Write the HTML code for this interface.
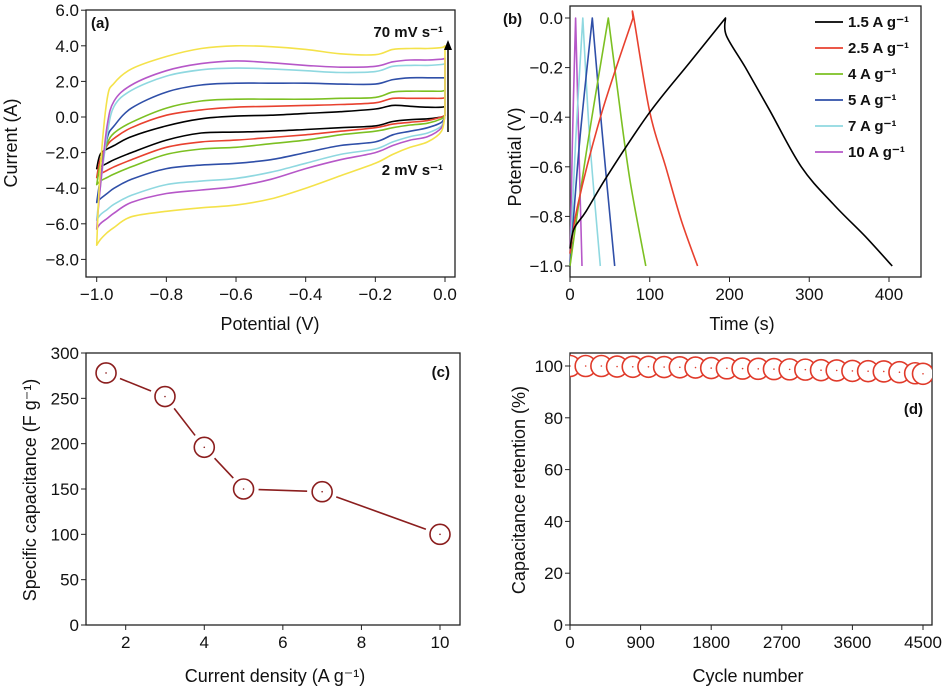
<!DOCTYPE html>
<html><head><meta charset="utf-8"><style>
body{margin:0;background:#fff;}
svg{display:block;font-family:"Liberation Sans",sans-serif;}
.tk{font-size:17px;fill:#111;}
.tt{font-size:18px;fill:#111;}
.b{font-weight:bold;font-size:15px;fill:#111;}
</style></head><body>
<svg id="s" width="947" height="688" viewBox="0 0 947 688"></svg>
<script>
// ---- Panel (a) CV data ----
const cvPotentials=[-1,-0.99,-0.97,-0.95,-0.9,-0.8,-0.7,-0.6,-0.5,-0.4,-0.3,-0.2,-0.15,-0.1,-0.05,-0.01,0];
const cvNames=['2','5','10','20','30','50','70'];
const cvColors=['#000000','#e8412f','#7cc022','#2f4fa8','#8fd8e0','#b657c8','#f4e24a'];
const cvUpper2=[-2.9,-2.1,-1.8,-1.6,-1.1,-0.5,-0.1,0.05,0.1,0.2,0.3,0.45,0.65,0.6,0.55,0.55,0.6];
const cvUpper5=[-3.4,-2.4,-1.6,-1.2,-0.6,0.1,0.4,0.55,0.6,0.65,0.7,0.8,1.05,1.05,1.05,1.05,1.1];
const cvUpper10=[-3.8,-2.7,-1.5,-0.9,-0.3,0.5,0.9,1.0,1.0,1.0,1.05,1.1,1.4,1.45,1.45,1.45,1.5];
const cvUpper20=[-4.8,-3.5,-1.2,-0.5,0.5,1.4,1.8,1.9,1.9,1.9,1.85,1.85,2.1,2.2,2.2,2.2,2.2];
const cvUpper30=[-5.8,-4.0,-1.0,0.6,1.5,2.3,2.65,2.75,2.7,2.6,2.5,2.55,2.85,2.9,2.9,2.95,3.0];
const cvUpper50=[-6.3,-4.0,-0.5,0.9,1.8,2.6,3.0,3.15,3.05,2.9,2.8,2.85,3.1,3.2,3.2,3.25,3.3];
const cvUpper70=[-7.2,-3.0,1.0,1.9,2.7,3.4,3.85,4.0,3.95,3.8,3.55,3.5,3.8,3.85,3.85,3.9,4.0];
const cvLower2=[-2.9,-2.8,-2.6,-2.4,-2.0,-1.3,-0.9,-0.85,-0.8,-0.7,-0.6,-0.5,-0.25,-0.15,-0.1,0,0.1];
const cvLower5=[-3.4,-3.2,-3.0,-2.8,-2.4,-1.7,-1.4,-1.3,-1.15,-1.0,-0.8,-0.6,-0.4,-0.3,-0.2,0.0,0.1];
const cvLower10=[-3.8,-3.6,-3.4,-3.2,-2.8,-2.1,-1.8,-1.7,-1.5,-1.3,-1.0,-0.8,-0.6,-0.45,-0.35,-0.1,0.1];
const cvLower20=[-4.8,-4.6,-4.3,-4.0,-3.5,-2.9,-2.7,-2.6,-2.4,-2.0,-1.6,-1.4,-1.0,-0.8,-0.6,-0.3,0.1];
const cvLower30=[-5.8,-5.5,-5.2,-4.9,-4.4,-3.8,-3.6,-3.45,-3.1,-2.6,-2.1,-1.8,-1.4,-1.1,-0.9,-0.5,0.1];
const cvLower50=[-6.3,-6.0,-5.7,-5.4,-4.8,-4.3,-4.1,-3.9,-3.5,-2.9,-2.4,-2.0,-1.6,-1.3,-1.1,-0.6,0.1];
const cvLower70=[-7.2,-6.9,-6.5,-6.2,-5.6,-5.3,-5.1,-4.95,-4.6,-4.0,-3.3,-2.6,-2.1,-1.7,-1.4,-0.8,0.2];
const aXTicks=[-1.0,-0.8,-0.6,-0.4,-0.2,0.0];
const aYTicks=[6,4,2,0,-2,-4,-6,-8];
// ---- Panel (b) GCD data ----
const gcdLabels=['1.5 A g','2.5 A g','4 A g','5 A g','7 A g','10 A g'];
const gcdColors=['#000000','#e8412f','#7cc022','#2f4fa8','#8fd8e0','#b657c8'];
const gcdTime15=[0,5,20,50,100,150,195,196,220,250,290,330,370,404];
const gcdV15=[-0.93,-0.85,-0.78,-0.62,-0.38,-0.18,0,-0.07,-0.2,-0.37,-0.6,-0.75,-0.88,-1];
const gcdTime25=[0,10,40,79,80,100,120,140,160];
const gcdV25=[-0.95,-0.75,-0.38,0,0,-0.38,-0.6,-0.82,-1];
const gcdTime4=[0,20,48,60,75,95];
const gcdV4=[-1,-0.55,0,-0.3,-0.65,-1];
const gcdTime5=[0,12,28,40,56];
const gcdV5=[-1,-0.5,0,-0.45,-1];
const gcdTime7=[0,7,16,25,38];
const gcdV7=[-1,-0.5,0,-0.5,-1];
const gcdTime10=[0,3,7,11,15];
const gcdV10=[-1,-0.5,0,-0.5,-1];
const bXTicks=[0,100,200,300,400];
const bYTicks=[0,-0.2,-0.4,-0.6,-0.8,-1.0];
// ---- Panel (c) ----
const cDensity=[1.5,3,4,5,7,10];
const cCapacitance=[278,252,196,150,147,100];
const cXTicks=[2,4,6,8,10];
const cYTicks=[0,50,100,150,200,250,300];
// ---- Panel (d) ----
const dCycles=[0,200,400,600,800,1000,1200,1400,1600,1800,2000,2200,2400,2600,2800,3000,3200,3400,3600,3800,4000,4200,4400,4500];
const dRetention=[100,100,100,99.8,99.7,99.7,99.6,99.5,99.4,99.2,99.1,99,98.9,98.8,98.7,98.6,98.4,98.3,98.1,98,97.9,97.6,97.2,97];
const dXTicks=[0,900,1800,2700,3600,4500];
const dYTicks=[0,20,40,60,80,100];

const S=document.getElementById('s');const NS='http://www.w3.org/2000/svg';
function mk(t,a,p){const e=document.createElementNS(NS,t);for(const k in a)e.setAttribute(k,a[k]);(p||S).appendChild(e);return e;}
function lin(d0,d1,r0,r1){return v=>r0+(v-d0)/(d1-d0)*(r1-r0);}
function txt(x,y,s,cls,anchor,name,rot){const e=mk('text',{x:x,y:y,class:cls,'text-anchor':anchor||'middle'});
 if(rot)e.setAttribute('transform','rotate(-90 '+x+' '+y+')');e.textContent=s;
 
 return e;}
function frame(L,T,R,B,name){const r=mk('rect',{x:L,y:T,width:R-L,height:B-T,fill:'none',stroke:'#222','stroke-width':1.3});
 
 }
function xticks(ticks,X,B,fmt,name){ticks.forEach(t=>{const x=X(t);mk('line',{x1:x,y1:B,x2:x,y2:B+5,stroke:'#222'});
 txt(x,B+23,fmt(t),'tk','middle',name);});}
function yticks(ticks,Y,L,fmt,name){ticks.forEach(t=>{const y=Y(t);mk('line',{x1:L-5,y1:y,x2:L,y2:y,stroke:'#222'});
 txt(L-7,y+6,fmt(t),'tk','end',name);});}
function f1(v){return (v<0?'\u2212':'')+Math.abs(v).toFixed(1);}
function smoothD(pts){let d='M'+pts[0][0].toFixed(1)+','+pts[0][1].toFixed(1);
 for(let i=0;i<pts.length-1;i++){const p0=pts[Math.max(0,i-1)],p1=pts[i],p2=pts[i+1],p3=pts[Math.min(pts.length-1,i+2)];
  const c1=[p1[0]+(p2[0]-p0[0])/6,p1[1]+(p2[1]-p0[1])/6],c2=[p2[0]-(p3[0]-p1[0])/6,p2[1]-(p3[1]-p1[1])/6];
  d+=' C'+c1.map(v=>v.toFixed(1)).join(',')+' '+c2.map(v=>v.toFixed(1)).join(',')+' '+p2[0].toFixed(1)+','+p2[1].toFixed(1);}
 return d;}
function path(d,col,name,w){const p=mk('path',{d:d,fill:'none',stroke:col,'stroke-width':w||1.6,'stroke-linejoin':'round'});
 
 return p;}

// Panel a
{const L=86,R=455,T=10,B=277;const X=lin(-1,0,96.7,445),Y=lin(0,1,117,99.2);
 frame(L,T,R,B,'panel-a-frame');
 xticks(aXTicks,X,B,f1,'panel-a-x-tick');yticks(aYTicks,Y,L,f1,'panel-a-y-tick');
 const ups=[cvUpper2,cvUpper5,cvUpper10,cvUpper20,cvUpper30,cvUpper50,cvUpper70];
 const los=[cvLower2,cvLower5,cvLower10,cvLower20,cvLower30,cvLower50,cvLower70];
 for(let i=0;i<7;i++){const up=cvPotentials.map((p,j)=>[X(p),Y(ups[i][j])]);
  const lo=cvPotentials.map((p,j)=>[X(p),Y(los[i][j])]).reverse();
  path(smoothD(up)+' L'+lo[0][0].toFixed(1)+','+lo[0][1].toFixed(1)+' '+smoothD(lo).replace('M','L')+' Z',cvColors[i],'cv-curve-'+cvNames[i]+'-mv');}
 mk('line',{x1:448,y1:132,x2:448,y2:48,stroke:'#000','stroke-width':1.5});
 const ar=mk('polygon',{points:'448,40 444,50 452,50',fill:'#000'});
 
 
 txt(443,37,'70 mV s\u207B\u00B9','b','end','label-70-mv');
 txt(443,175,'2 mV s\u207B\u00B9','b','end','label-2-mv');
 txt(91,28,'(a)','b','start','panel-a-label');
 txt(270,330,'Potential (V)','tt','middle','panel-a-x-title');
 txt(17,143,'Current (A)','tt','middle','panel-a-y-title',true);}
// Panel b
{const L=570,R=921,T=6,B=277;const X=lin(0,400,570,889),Y=lin(0,-1,18,266);
 frame(L,T,R,B,'panel-b-frame');
 xticks(bXTicks,X,B,v=>String(v),'panel-b-x-tick');yticks(bYTicks,Y,L,f1,'panel-b-y-tick');
 const ts=[gcdTime15,gcdTime25,gcdTime4,gcdTime5,gcdTime7,gcdTime10],vs=[gcdV15,gcdV25,gcdV4,gcdV5,gcdV7,gcdV10];
 for(let i=5;i>=0;i--){const pts=ts[i].map((t,j)=>[X(t),Y(vs[i][j])]);
  let pk=0;vs[i].forEach((v,j)=>{if(v>vs[i][pk])pk=j;});
  const a=pts.slice(0,pk+1),b=pts.slice(pk+1);
  let d=smoothD(a);if(b.length){const bb=[pts[pk]].concat(b);d+=' '+smoothD(bb).replace('M','L');}
  path(d,gcdColors[i],'gcd-curve-'+i);}
 gcdLabels.forEach((l,i)=>{const y=22+i*26;const ln=mk('line',{x1:815,y1:y,x2:843,y2:y,stroke:gcdColors[i],'stroke-width':1.8});
  
  
  txt(848,y+5,l+'\u207B\u00B9','b','start','legend-entry');});
 txt(503,24,'(b)','b','start','panel-b-label');
 txt(742,330,'Time (s)','tt','middle','panel-b-x-title');
 txt(521,157,'Potential (V)','tt','middle','panel-b-y-title',true);}
// Panel c
{const L=86,R=460,T=353,B=625;const X=lin(2,10,125.7,440),Y=lin(0,300,625,353);
 frame(L,T,R,B,'panel-c-frame');
 xticks(cXTicks,X,B,v=>String(v),'panel-c-x-tick');yticks(cYTicks,Y,L,v=>String(v),'panel-c-y-tick');
 const col='#8b1e1e',r=10;
 for(let i=0;i<cDensity.length-1;i++){const x1=X(cDensity[i]),y1=Y(cCapacitance[i]),x2=X(cDensity[i+1]),y2=Y(cCapacitance[i+1]);
  const d=Math.hypot(x2-x1,y2-y1),ux=(x2-x1)/d,uy=(y2-y1)/d,g=r+5;
  const s=mk('line',{x1:x1+ux*g,y1:y1+uy*g,x2:x2-ux*g,y2:y2-uy*g,stroke:col,'stroke-width':1.6});
  
  }
 cDensity.forEach((v,i)=>{const c=mk('circle',{cx:X(v),cy:Y(cCapacitance[i]),r:r,fill:'#fff',stroke:col,'stroke-width':1.6});
  
  
  mk('circle',{cx:X(v),cy:Y(cCapacitance[i]),r:0.8,fill:col});});
 txt(450,377,'(c)','b','end','panel-c-label');
 txt(275,682,'Current density (A g\u207B\u00B9)','tt','middle','panel-c-x-title');
 txt(36,490,'Specific capacitance (F g\u207B\u00B9)','tt','middle','panel-c-y-title',true);}
// Panel d
{const L=570,R=932,T=353,B=625;const X=lin(0,4500,570,923),Y=lin(0,100,625,366);
 frame(L,T,R,B,'panel-d-frame');
 xticks(dXTicks,X,B,v=>String(v),'panel-d-x-tick');yticks(dYTicks,Y,L,v=>String(v),'panel-d-y-tick');
 const cp=mk('clipPath',{id:'dclip'});mk('rect',{x:L,y:T,width:R-L,height:B-T},cp);
 const g=mk('g',{'clip-path':'url(#dclip)'});
 dCycles.forEach((c,i)=>{const e=mk('circle',{cx:X(c),cy:Y(dRetention[i]),r:10.5,fill:'#fff',stroke:'#e03a2a','stroke-width':1.6},g);
  
  
  mk('circle',{cx:X(c),cy:Y(dRetention[i]),r:0.8,fill:'#e03a2a'},g);});
 txt(923,414,'(d)','b','end','panel-d-label');
 txt(748,682,'Cycle number','tt','middle','panel-d-x-title');
 txt(525,490,'Capacitance retention (%)','tt','middle','panel-d-y-title',true);}
</script>
</body></html>
